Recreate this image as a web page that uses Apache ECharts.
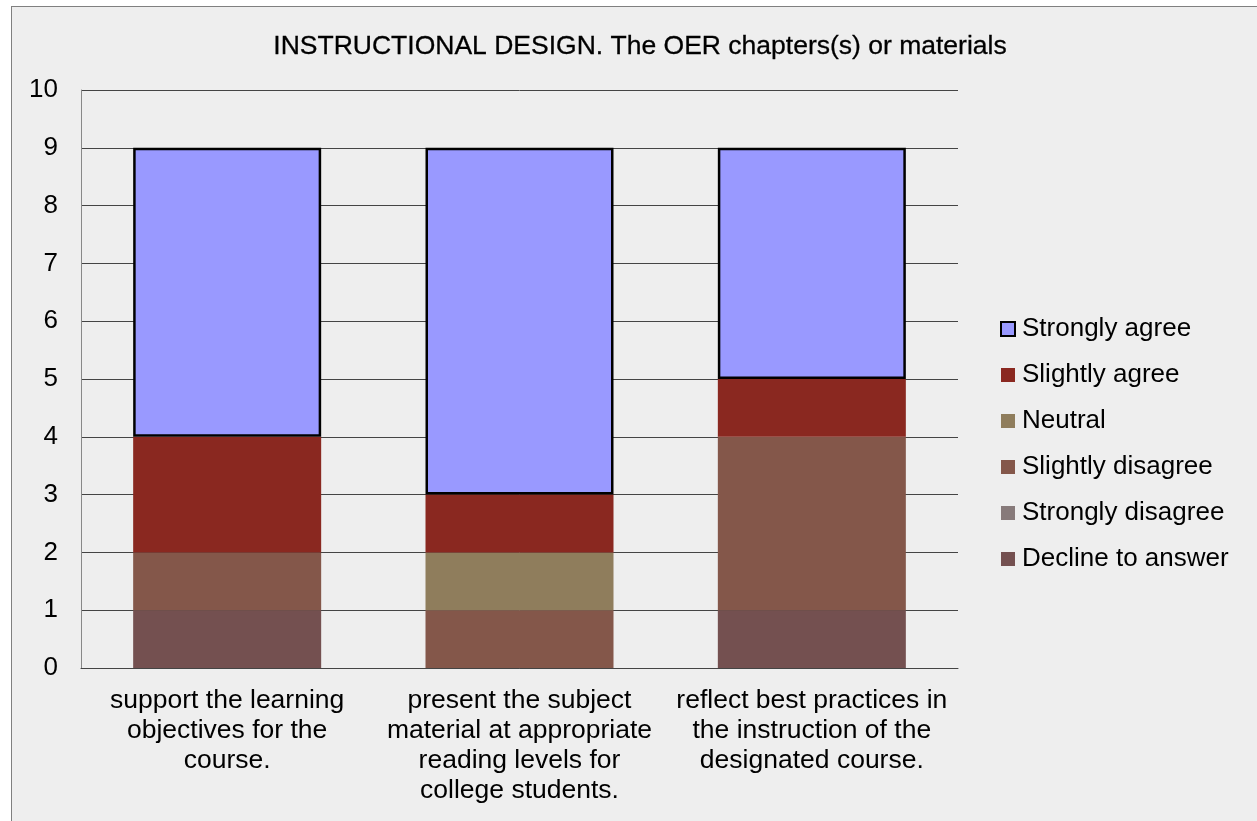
<!DOCTYPE html>
<html>
<head>
<meta charset="utf-8">
<script src="https://cdn.jsdelivr.net/npm/echarts@6/dist/echarts.min.js"></script>
<style>
    html, body {
        margin: 0;
        padding: 0;
        background: #ffffff;
        overflow: hidden;
    }
    #chart {
        position: absolute;
        left: 11px;
        top: 6px;
        width: 1260px;
        height: 830px;
        border: 1px solid #808080;
        background: #eeeeee;
    }
</style>
</head>
<body>
<div id="chart"></div>
<script>
const categories = [
    "support the learning\nobjectives for the\ncourse.",
    "present the subject\nmaterial at appropriate\nreading levels for\ncollege students.",
    "reflect best practices in\nthe instruction of the\ndesignated course.",
];
const declineToAnswer = [1, 0, 1];
const stronglyDisagree = [0, 0, 0];
const slightlyDisagree = [1, 1, 3];
const neutral = [0, 1, 0];
const slightlyAgree = [2, 1, 1];
const stronglyAgree = [5, 6, 4];
const yTicks = [0, 10, 1];

const font = "'Liberation Sans', Arial, sans-serif";

function bar(name, data, color, border) {
    return {
        name: name,
        type: "bar",
        stack: "all",
        barWidth: 188,
        data: data,
        itemStyle: {
            color: color,
            borderColor: border ? "#000000" : color,
            borderWidth: border ? 2.5 : 0,
        },
    };
}

const chart = echarts.init(document.getElementById("chart"));
chart.setOption({
    animation: false,
    textStyle: { fontFamily: font },
    title: {
        text: "INSTRUCTIONAL DESIGN. The OER chapters(s) or materials",
        left: 623,
        top: 21,
        textAlign: "center",
        textStyle: {
            fontFamily: font,
            fontSize: 26.5,
            fontWeight: "normal",
            color: "#000000",
            textBorderColor: "#000000",
            textBorderWidth: 0.3,
        },
    },
    grid: {
        left: 69,
        top: 83,
        width: 877,
        height: 578,
    },
    legend: {
        orient: "vertical",
        left: 983,
        top: 304,
        itemWidth: 14,
        itemHeight: 14,
        itemGap: 20,
        icon: "rect",
        data: [
            "Strongly agree",
            "Slightly agree",
            "Neutral",
            "Slightly disagree",
            "Strongly disagree",
            "Decline to answer",
        ],
        textStyle: {
            fontFamily: font,
            fontSize: 26,
            lineHeight: 26,
            color: "#000000",
            padding: [0, 0, 0, 2],
        },
    },
    xAxis: {
        type: "category",
        data: categories,
        axisTick: { show: false },
        axisLine: { lineStyle: { color: "#444444", width: 1 } },
        axisLabel: {
            interval: 0,
            margin: 18,
            fontSize: 26.5,
            lineHeight: 30,
            color: "#000000",
            fontFamily: font,
        },
    },
    yAxis: {
        type: "value",
        min: yTicks[0],
        max: yTicks[1],
        interval: yTicks[2],
        axisLine: { show: true, lineStyle: { color: "#888888" } },
        axisTick: { show: false },
        splitLine: { lineStyle: { color: "#444444", width: 1 } },
        axisLabel: {
            margin: 23,
            fontSize: 26,
            color: "#000000",
            fontFamily: font,
        },
    },
    series: [
        bar("Decline to answer", declineToAnswer, "#745050"),
        bar("Strongly disagree", stronglyDisagree, "#877A7A"),
        bar("Slightly disagree", slightlyDisagree, "#84574A"),
        bar("Neutral", neutral, "#8F7D5C"),
        bar("Slightly agree", slightlyAgree, "#8A2820"),
        bar("Strongly agree", stronglyAgree, "#9999FF", true),
    ],
});
</script>
</body>
</html>
